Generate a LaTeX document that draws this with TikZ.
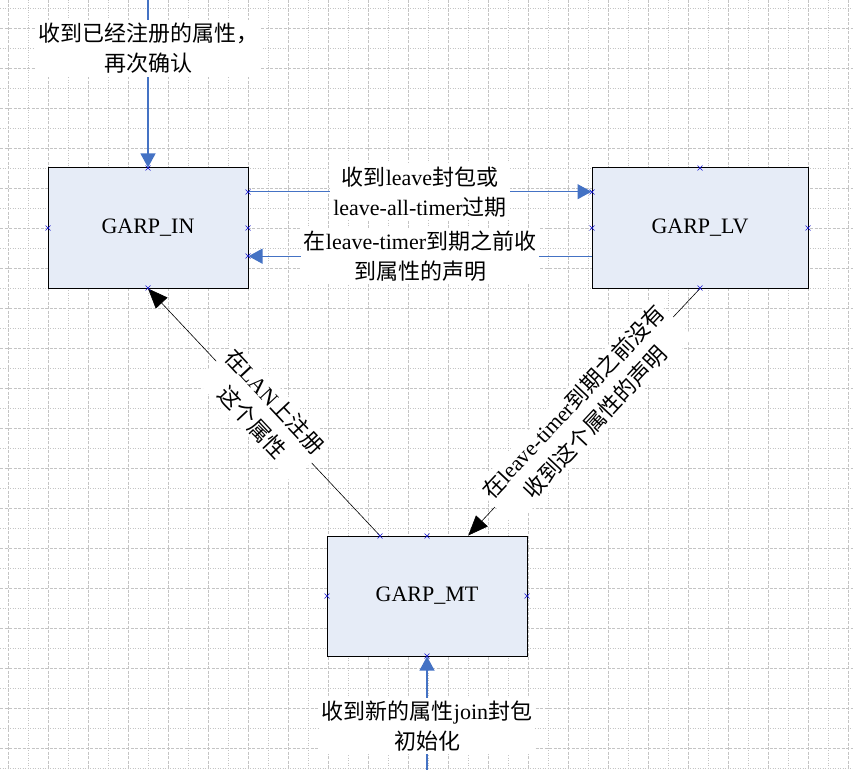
\documentclass[tikz,border=0pt]{standalone}
\usepackage{fontspec}
\setmainfont{Liberation Serif}
\newfontfamily\cjk{Noto Sans CJK SC}
\newcommand{\zh}[1]{{\cjk #1}}
\usetikzlibrary{arrows.meta,calc}

\begin{document}
\begin{tikzpicture}[x=1pt,y=-1pt,
  statebox/.style={draw=black, line width=1pt, fill=BoxFill, minimum height=120pt,
    font=\fontsize{22}{26}\selectfont},
  evtlabel/.style={fill=white, text=black, align=center, inner sep=3pt, font=\fontsize{22}{30}\selectfont},
  blueflow/.style={draw=FlowBlue, line width=1.1pt, -{Triangle[length=14pt,width=15pt]}, FlowBlue},
  blackflow/.style={draw=black, line width=0.6pt, -{Triangle[length=20pt,width=16pt]}},
  gridmajor/.style={GridGray, line width=0.7pt, dash pattern=on 3pt off 1.5pt},
  gridminor/.style={GridGray, line width=0.7pt, dash pattern=on 1pt off 1.5pt},
  cpmark/.style={draw=MarkBlue, line width=0.6pt}]

% Define Colors
\definecolor{BoxFill}{HTML}{E6ECF7}
\definecolor{FlowBlue}{HTML}{4472C4}
\definecolor{GridGray}{HTML}{C4C4C4}
\definecolor{MarkBlue}{HTML}{1010D0}

\useasboundingbox (0,0) rectangle (853,770);

% Background grid (20px spacing, every second line dashed)
\foreach \gx in {8,48,...,848} {
  \draw[gridmajor] (\gx,0) -- (\gx,770);
}
\foreach \gx in {28,68,...,848} {
  \draw[gridminor] (\gx,0) -- (\gx,770);
}
\foreach \gy in {28,68,...,768} {
  \draw[gridmajor] (0,\gy) -- (853,\gy);
}
\foreach \gy in {8,48,...,768} {
  \draw[gridminor] (0,\gy) -- (853,\gy);
}

% States
\node[statebox, minimum width=200pt] (in) at (148,228) {GARP\_IN};
\node[statebox, minimum width=216pt] (lv) at (700,228) {GARP\_LV};
\node[statebox, minimum width=200pt] (mt) at (427,596) {GARP\_MT};

% Free ends of the entry arrows
\coordinate (topin) at (148,0);
\coordinate (botmt) at (427,770);

% Entry into GARP_IN from above
\draw[blueflow] (topin) -- node[evtlabel, pos=0.29] {\zh{收到已经注册的属性，}\\\zh{再次确认}} (in.north);

% GARP_IN <-> GARP_LV
\draw[blueflow] ($(in.north east)!0.2!(in.south east)$) --
  node[evtlabel] {\zh{收到}leave\zh{封包或}\\leave-all-timer\zh{过期}}
  ($(lv.north west)!0.2!(lv.south west)$);
\draw[blueflow] ($(lv.north west)!0.733!(lv.south west)$) --
  node[evtlabel] {\zh{在}leave-timer\zh{到期之前收}\\\zh{到属性的声明}}
  ($(in.north east)!0.733!(in.south east)$);

% Diagonal transitions
\draw[blackflow] ($(mt.north west)!0.265!(mt.north east)$) --
  node[evtlabel, sloped] {\zh{在}LAN\zh{上注册}\\\zh{这个属性}} (in.south);
\draw[blackflow] (lv.south) --
  node[evtlabel, sloped] {\zh{在}leave-timer\zh{到期之前没有}\\\zh{收到这个属性的声明}}
  ($(mt.north west)!0.705!(mt.north east)$);

% Entry into GARP_MT from below
\draw[blueflow] (botmt) -- node[evtlabel, pos=0.39] {\zh{收到新的属性}join\zh{封包}\\\zh{初始化}} (mt.south);

% Connection point marks
\foreach \px/\py in {148/168, 248/192, 248/228, 248/256, 48/228, 148/288,
                     700/168, 592/192, 592/228, 808/228, 700/288,
                     380/536, 427/536, 327/596, 527/596, 427/656} {
  \draw[cpmark] (\px-2.5,\py-2.5) -- (\px+2.5,\py+2.5) (\px-2.5,\py+2.5) -- (\px+2.5,\py-2.5);
}

\end{tikzpicture}
\end{document}
